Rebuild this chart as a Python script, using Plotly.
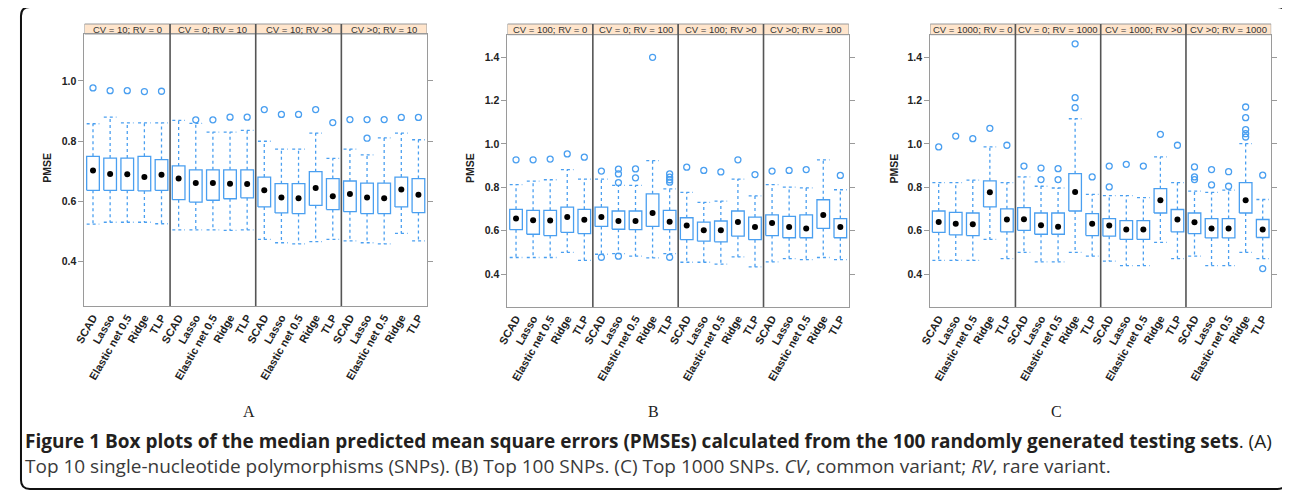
import plotly.graph_objects as go

# ---------------- data ----------------
methods = ["SCAD", "Lasso", "Elastic net 0.5", "Ridge", "TLP"]

strips_A = ["CV = 10; RV = 0", "CV = 0; RV = 10", "CV = 10; RV >0", "CV >0; RV = 10"]
strips_B = ["CV = 100; RV = 0", "CV = 0; RV = 100", "CV = 100; RV >0", "CV >0; RV = 100"]
strips_C = ["CV = 1000; RV = 0", "CV = 0; RV = 1000", "CV = 1000; RV >0", "CV >0; RV = 1000"]

# Panel A (Top 10 SNPs): 4 facets x 5 methods
A_low = [0.525, 0.531, 0.531, 0.531, 0.526,
         0.506, 0.506, 0.506, 0.504, 0.506,
         0.474, 0.463, 0.459, 0.467, 0.474,
         0.469, 0.463, 0.459, 0.494, 0.469]
A_q1 = [0.637, 0.637, 0.637, 0.635, 0.637,
        0.606, 0.598, 0.604, 0.609, 0.612,
        0.582, 0.562, 0.560, 0.587, 0.573,
        0.566, 0.560, 0.560, 0.582, 0.563]
A_med = [0.703, 0.691, 0.690, 0.681, 0.689,
         0.676, 0.661, 0.661, 0.659, 0.658,
         0.637, 0.613, 0.611, 0.645, 0.617,
         0.625, 0.613, 0.611, 0.640, 0.622]
A_q3 = [0.750, 0.744, 0.744, 0.750, 0.739,
        0.718, 0.705, 0.705, 0.705, 0.705,
        0.681, 0.659, 0.659, 0.699, 0.676,
        0.668, 0.661, 0.661, 0.681, 0.676]
A_high = [0.858, 0.880, 0.861, 0.861, 0.861,
          0.869, 0.859, 0.830, 0.830, 0.836,
          0.800, 0.774, 0.774, 0.827, 0.743,
          0.774, 0.755, 0.811, 0.827, 0.805]
A_out = [[0.977], [0.968], [0.968], [0.965], [0.966],
         [], [0.871], [0.871], [0.880], [0.880],
         [0.905], [0.889], [0.889], [0.905], [0.862],
         [0.872], [0.872, 0.810], [0.872], [0.879], [0.879]]

# Panel B (Top 100 SNPs)
B_low = [0.477, 0.477, 0.477, 0.501, 0.464,
         0.492, 0.495, 0.483, 0.475, 0.495,
         0.455, 0.455, 0.446, 0.480, 0.434,
         0.457, 0.472, 0.467, 0.477, 0.467]
B_q1 = [0.605, 0.584, 0.578, 0.593, 0.587,
        0.620, 0.607, 0.605, 0.620, 0.605,
        0.559, 0.552, 0.549, 0.575, 0.559,
        0.578, 0.568, 0.568, 0.611, 0.568]
B_med = [0.657, 0.648, 0.647, 0.663, 0.651,
         0.663, 0.645, 0.645, 0.682, 0.642,
         0.624, 0.602, 0.602, 0.640, 0.617,
         0.636, 0.617, 0.611, 0.673, 0.617]
B_q3 = [0.699, 0.694, 0.694, 0.709, 0.699,
        0.709, 0.691, 0.691, 0.770, 0.694,
        0.660, 0.640, 0.645, 0.691, 0.663,
        0.673, 0.666, 0.673, 0.743, 0.656]
B_high = [0.813, 0.829, 0.835, 0.882, 0.838,
          0.838, 0.809, 0.809, 0.923, 0.793,
          0.777, 0.731, 0.737, 0.838, 0.761,
          0.813, 0.801, 0.798, 0.927, 0.789]
B_out = [[0.927], [0.927], [0.930], [0.954], [0.939],
         [0.875, 0.478], [0.884, 0.862, 0.822, 0.483], [0.885, 0.844], [1.399], [0.862, 0.847, 0.835, 0.824, 0.478],
         [0.893], [0.878], [0.871], [0.927], [0.859],
         [0.875], [0.878], [0.882], [], [0.855]]

# Panel C (Top 1000 SNPs)
C_low = [0.464, 0.464, 0.464, 0.560, 0.472,
         0.501, 0.457, 0.457, 0.501, 0.483,
         0.460, 0.440, 0.440, 0.547, 0.472,
         0.483, 0.440, 0.440, 0.501, 0.472]
C_q1 = [0.593, 0.581, 0.578, 0.710, 0.595,
        0.602, 0.584, 0.584, 0.691, 0.578,
        0.575, 0.560, 0.560, 0.682, 0.595,
        0.587, 0.567, 0.567, 0.682, 0.569]
C_med = [0.641, 0.632, 0.630, 0.777, 0.652,
         0.653, 0.626, 0.618, 0.779, 0.632,
         0.624, 0.606, 0.606, 0.741, 0.652,
         0.639, 0.610, 0.610, 0.741, 0.606]
C_q3 = [0.691, 0.685, 0.682, 0.830, 0.701,
        0.707, 0.682, 0.682, 0.863, 0.679,
        0.656, 0.647, 0.647, 0.794, 0.698,
        0.682, 0.656, 0.656, 0.822, 0.652]
C_high = [0.822, 0.822, 0.833, 0.986, 0.822,
          0.848, 0.805, 0.797, 1.116, 0.768,
          0.762, 0.762, 0.753, 0.940, 0.822,
          0.783, 0.777, 0.787, 1.001, 0.744]
C_out = [[0.986], [1.036], [1.024], [1.072], [0.994],
         [0.898], [0.889, 0.836], [0.886, 0.836], [1.461, 1.213, 1.167], [0.848],
         [0.898, 0.802], [0.906], [0.898], [1.044], [0.994],
         [0.894, 0.848, 0.836], [0.882, 0.811], [0.872, 0.805], [1.170, 1.121, 1.066, 1.047, 1.032], [0.856, 0.426]]

panel_letters = ["A", "B", "C"]
caption_bold = "Figure 1 Box plots of the median predicted mean square errors (PMSEs) calculated from the 100 randomly generated testing sets"
caption_rest = ". (A)"
caption_line2 = ("Top 10 single-nucleotide polymorphisms (SNPs). (B) Top 100 SNPs. (C) Top 1000 SNPs. "
                 "<i>CV</i>, common variant; <i>RV</i>, rare variant.")

# ---------------- styling / layout ----------------
W, H = 1290, 492
OFF = 8  # page body margin
BLUE = "#4a9ff0"
FRAME = "#9a9a9a"
DIV = "#555555"
STRIP_FILL = "#ffe5cc"
HALF = 0.37


def fx(x):
    return (x - OFF) / W


def fy(y):
    return 1 - (y - OFF) / H


panels = [
    dict(strips=strips_A, low=A_low, q1=A_q1, med=A_med, q3=A_q3, high=A_high, out=A_out,
         px=(74, 419.5), py=(34, 306), yrange=(0.253, 1.156), yticks=[0.4, 0.6, 0.8, 1.0],
         pmse_x=36, letter_x=240),
    dict(strips=strips_B, low=B_low, q1=B_q1, med=B_med, q3=B_q3, high=B_high, out=B_out,
         px=(500.7, 845), py=(34.7, 307), yrange=(0.249, 1.503), yticks=[0.4, 0.6, 0.8, 1.0, 1.2, 1.4],
         pmse_x=463, letter_x=648),
    dict(strips=strips_C, low=C_low, q1=C_q1, med=C_med, q3=C_q3, high=C_high, out=C_out,
         px=(927, 1271), py=(34.7, 307), yrange=(0.249, 1.503), yticks=[0.4, 0.6, 0.8, 1.0, 1.2, 1.4],
         pmse_x=891, letter_x=1054),
]

fig = go.Figure()
shapes = []
annotations = []
layout_axes = {}
XTICKFONT = dict(family="Liberation Sans, Arial, sans-serif", size=11, color="#222", weight="bold")
YTICKFONT = dict(family="Liberation Sans, Arial, sans-serif", size=10.5, color="#222", weight="bold")

for i, p in enumerate(panels):
    sfx = "" if i == 0 else str(i + 1)
    xa, ya = "x" + sfx, "y" + sfx
    n = len(p["med"])
    xs = list(range(n))

    bx, by = [], []
    wx, wy = [], []
    for k in xs:
        bx += [k - HALF, k + HALF, k + HALF, k - HALF, k - HALF, None]
        by += [p["q1"][k], p["q1"][k], p["q3"][k], p["q3"][k], p["q1"][k], None]
        wx += [k, k, None, k, k, None, k - HALF, k + HALF, None, k - HALF, k + HALF, None]
        wy += [p["q3"][k], p["high"][k], None, p["q1"][k], p["low"][k], None,
               p["high"][k], p["high"][k], None, p["low"][k], p["low"][k], None]
    fig.add_trace(go.Scatter(x=wx, y=wy, mode="lines", xaxis=xa, yaxis=ya,
                             line=dict(color=BLUE, width=1.3, dash="dot"), hoverinfo="skip"))
    fig.add_trace(go.Scatter(x=bx, y=by, mode="lines", xaxis=xa, yaxis=ya,
                             line=dict(color=BLUE, width=1.3), hoverinfo="skip"))
    ox, oy = [], []
    for k in xs:
        for v in p["out"][k]:
            ox.append(k)
            oy.append(v)
    fig.add_trace(go.Scatter(x=ox, y=oy, mode="markers", xaxis=xa, yaxis=ya,
                             marker=dict(symbol="circle-open", size=6, color=BLUE, line=dict(width=1.3))))
    fig.add_trace(go.Scatter(x=xs, y=p["med"], mode="markers", xaxis=xa, yaxis=ya,
                             marker=dict(symbol="circle", size=6, color="black")))

    x0, x1 = p["px"]
    yt, yb = p["py"]
    layout_axes["xaxis" + sfx] = dict(
        domain=[fx(x0), fx(x1)], anchor=ya, range=[-0.5, n - 0.5],
        tickmode="array", tickvals=xs, ticktext=methods * 4, tickangle=-60,
        showline=True, mirror=True, linecolor=FRAME, linewidth=1,
        showgrid=False, zeroline=False, ticks="",
        tickfont=XTICKFONT,
    )
    layout_axes["yaxis" + sfx] = dict(
        domain=[fy(yb), fy(yt)], anchor=xa, range=list(p["yrange"]),
        tickmode="array", tickvals=p["yticks"], ticktext=[f"{v:.1f}" for v in p["yticks"]],
        showline=True, mirror="ticks", linecolor=FRAME, linewidth=1,
        ticks="outside", ticklen=5, tickcolor=FRAME, tickwidth=1,
        showgrid=False, zeroline=False,
        tickfont=YTICKFONT,
    )

    for f in range(1, 4):
        shapes.append(dict(type="line", xref=xa, yref="paper", x0=5 * f - 0.5, x1=5 * f - 0.5,
                           y0=fy(yb), y1=fy(24), line=dict(color=DIV, width=1.6)))
    for f in range(4):
        shapes.append(dict(type="rect", xref=xa, yref="paper", x0=5 * f - 0.5, x1=5 * f + 4.5,
                           y0=fy(yt), y1=fy(24), fillcolor=STRIP_FILL,
                           line=dict(color=FRAME, width=1), layer="below"))
        annotations.append(dict(xref=xa, yref="paper", x=5 * f + 2, y=fy((24 + yt) / 2),
                                text=p["strips"][f], showarrow=False, xanchor="center", yanchor="middle",
                                font=dict(family="Liberation Sans, Arial, sans-serif", size=9.5, color="#333")))
    annotations.append(dict(xref="paper", yref="paper", x=fx(p["pmse_x"]), y=fy(168),
                            text="<b>PMSE</b>", textangle=-90, showarrow=False,
                            xanchor="center", yanchor="middle",
                            font=dict(family="Liberation Sans, Arial, sans-serif", size=10.5, color="#222")))
    annotations.append(dict(xref="paper", yref="paper", x=fx(p["letter_x"]), y=fy(411),
                            text=panel_letters[i], showarrow=False, xanchor="center", yanchor="middle",
                            font=dict(family="Liberation Serif, Times New Roman, serif", size=16, color="#222")))

annotations.append(dict(xref="paper", yref="paper", x=fx(12), y=fy(441),
                        text=f"<b>{caption_bold}</b>{caption_rest}", showarrow=False,
                        xanchor="left", yanchor="middle",
                        font=dict(family="Open Sans, Noto Sans, sans-serif", size=19, color="#231f20")))
annotations.append(dict(xref="paper", yref="paper", x=fx(12), y=fy(466),
                        text=caption_line2, showarrow=False,
                        xanchor="left", yanchor="middle",
                        font=dict(family="Open Sans, Noto Sans, sans-serif", size=19, color="#3a3a3a")))

r = 9
bx0, by0, bx1, by1 = 10, 7, 1286, 489


def P(x, y):
    return f"{fx(x):.5f},{fy(y):.5f}"


frame_path = (f"M {P(bx0 + r, by0)} L {P(bx1 - r, by0)} Q {P(bx1, by0)} {P(bx1, by0 + r)} "
              f"L {P(bx1, by1 - r)} Q {P(bx1, by1)} {P(bx1 - r, by1)} "
              f"L {P(bx0 + r, by1)} Q {P(bx0, by1)} {P(bx0, by1 - r)} "
              f"L {P(bx0, by0 + r)} Q {P(bx0, by0)} {P(bx0 + r, by0)} Z")
shapes.append(dict(type="path", xref="paper", yref="paper", path=frame_path,
                   line=dict(color="#111", width=2)))

fig.update_layout(
    width=W, height=H, autosize=False,
    margin=dict(l=0, r=0, t=0, b=0),
    paper_bgcolor="white", plot_bgcolor="white",
    showlegend=False,
    shapes=shapes, annotations=annotations,
    **layout_axes,
)

fig.write_html("out.html")
